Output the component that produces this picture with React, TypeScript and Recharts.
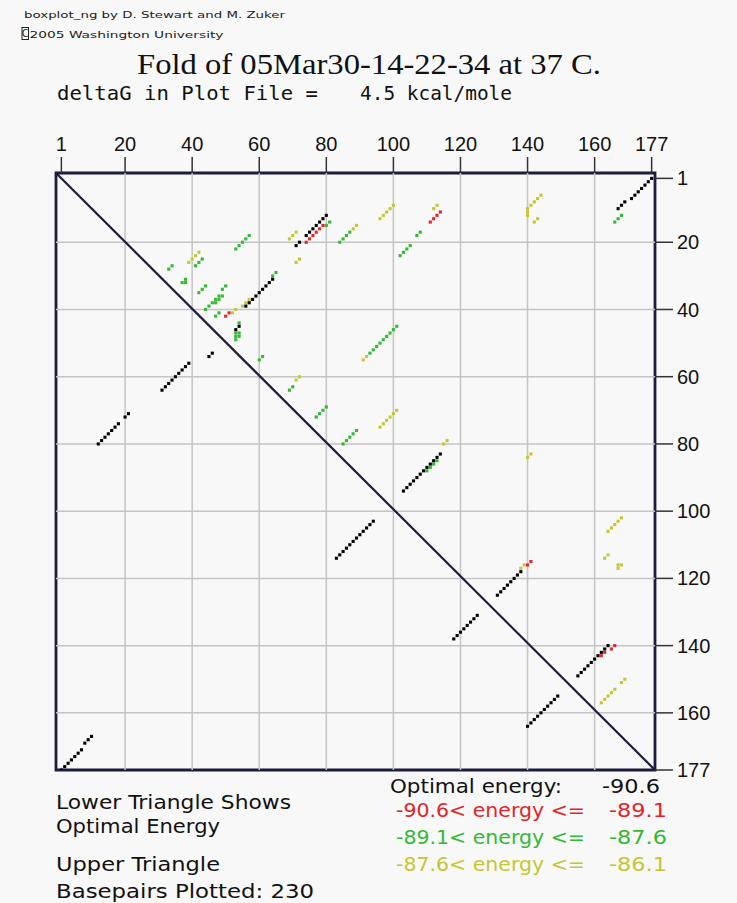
import { ScatterChart, Scatter, XAxis, YAxis, ReferenceLine, ReferenceArea } from "recharts";

type Pair = [number, number];

const axisTicks = [1, 20, 40, 60, 80, 100, 120, 140, 160, 177];
const gridTicks = [20, 40, 60, 80, 100, 120, 140, 160];

// base pairs (i, j), i < j, of the optimal fold
const optimalPairs: Pair[] = [
  [1, 177], [2, 176], [3, 175], [4, 174], [5, 173], [6, 172], [7, 171], [8, 169], [9, 168], [10, 167],
  [12, 80], [13, 79], [14, 78], [15, 77], [16, 76], [17, 75], [18, 74], [20, 72], [21, 71],
  [31, 64], [32, 63], [33, 62], [34, 61], [35, 60], [36, 59], [37, 58], [38, 57], [39, 56],
  [45, 54], [46, 53],
  [83, 114], [84, 113], [85, 112], [86, 111], [87, 110], [88, 109], [89, 108], [90, 107], [91, 106], [92, 105], [93, 104], [94, 103],
  [118, 138], [119, 137], [120, 136], [121, 135], [122, 134], [123, 133], [124, 132], [125, 131],
  [140, 164], [141, 163], [142, 162], [143, 161], [144, 160], [145, 159], [146, 158], [147, 157], [148, 156], [149, 155],
];

// suboptimal pairs, -90.6 < energy <= -89.1
const redPairs: Pair[] = [
  [15, 79], [16, 78], [17, 77], [18, 76], [19, 75], [20, 74],
  [11, 114], [12, 113], [13, 112], [14, 111],
  [41, 51], [42, 50],
  [115, 141], [116, 140],
  [140, 166], [141, 165], [142, 163], [143, 162],
];

// -89.1 < energy <= -87.6
const greenPairs: Pair[] = [
  [18, 57], [19, 56], [20, 55], [21, 54], [22, 53],
  [14, 81], [15, 80],
  [17, 87], [18, 86], [19, 85], [20, 84],
  [17, 108], [18, 107],
  [21, 105], [22, 104], [23, 103], [24, 102],
  [12, 168], [13, 167], [14, 166],
  [29, 65], [30, 64],
  [27, 34], [28, 33],
  [31, 38], [32, 37], [32, 38],
  [25, 43], [26, 42], [27, 41],
  [33, 44], [34, 43], [35, 42],
  [33, 50], [34, 49],
  [36, 48], [37, 47], [38, 46], [39, 45], [40, 44], [36, 49], [37, 48], [38, 47],
  [41, 48], [42, 47],
  [44, 54], [47, 54], [48, 54], [47, 53], [48, 53], [49, 53],
  [45, 101], [46, 100], [47, 99], [48, 98], [49, 97], [50, 96], [51, 95], [52, 94], [53, 93],
  [54, 61], [55, 60],
  [63, 70], [64, 69],
  [69, 80], [70, 79], [71, 78], [72, 77],
  [76, 89], [77, 88], [78, 87], [79, 86], [80, 85],
  [85, 113], [86, 112], [87, 111], [88, 110],
];

// -87.6 < energy <= -86.1
const yellowPairs: Pair[] = [
  [17, 71], [18, 70], [19, 69],
  [25, 72], [26, 71],
  [15, 89], [16, 88],
  [9, 100], [10, 99], [11, 98], [12, 97], [13, 96],
  [9, 113], [10, 112],
  [6, 144], [7, 143], [8, 142], [9, 141], [10, 140], [11, 140], [12, 140], [13, 143], [14, 142],
  [23, 42], [24, 41], [25, 40], [26, 39],
  [37, 57], [38, 56], [39, 55], [40, 53], [41, 52],
  [54, 92], [55, 91],
  [60, 72], [61, 71],
  [70, 101], [71, 100], [72, 99], [73, 98], [74, 97], [75, 96],
  [79, 116], [80, 115],
  [83, 141], [84, 140],
  [102, 168], [103, 167], [104, 166], [105, 165], [106, 164],
  [113, 164], [114, 163],
  [116, 167], [117, 167], [116, 168],
  [116, 139], [117, 138],
  [150, 169], [151, 168], [153, 166], [154, 165], [155, 164], [156, 163], [157, 162],
];

const bandLabels = ["-90.6", "-89.1", "-87.6", "-86.1"];
const optimalEnergy = "-90.6";
const deltaG = "4.5 kcal/mole";
const basepairCount = 230;

const NAVY = "#1c1c3c";
const RED = "#e0262a";
const GREEN = "#35b835";
const YELLOW = "#c6c634";
const bandColors = [RED, GREEN, YELLOW];

// upper triangle: x = j, y = i ; lower triangle: x = i, y = j
const upper = (pairs: Pair[]) => pairs.map(([i, j]) => ({ x: j, y: i }));
const lower = (pairs: Pair[]) => pairs.map(([i, j]) => ({ x: i, y: j }));

const square = (color: string) => (props: any) => (
  <rect x={props.cx - 1.55} y={props.cy - 1.55} width={3.1} height={3.1} fill={color} />
);

const xDomain: [number, number] = [-0.6, 178];
const yDomain: [number, number] = [-0.6, 177];

const Labels = () => {
  const mono = "DejaVu Sans Mono";
  const sans = "DejaVu Sans";
  return (
    <svg
      width={737}
      height={903}
      style={{ position: "absolute", left: 0, top: 0, pointerEvents: "none" }}
    >
      <text x={24} y={18} fontFamily={sans} fontSize={9.5} fill="#222" textLength={261} lengthAdjust="spacingAndGlyphs">
        boxplot_ng by D. Stewart and M. Zuker
      </text>
      <rect x={22} y={27.5} width={6.5} height={12} fill="none" stroke="#222" strokeWidth={1} />
      <text x={25.25} y={37} fontFamily={sans} fontSize={10} fill="#222" textAnchor="middle">C</text>
      <text x={29.5} y={38} fontFamily={sans} fontSize={9} fill="#222" textLength={194} lengthAdjust="spacingAndGlyphs">
        2005 Washington University
      </text>

      <text x={137} y={74} fontFamily="Liberation Serif" fontSize={29} fill="#111" textLength={464} lengthAdjust="spacingAndGlyphs">
        Fold of 05Mar30-14-22-34 at 37 C.
      </text>
      <text x={57} y={100} fontFamily={mono} fontSize={19} fill="#111" textLength={261} lengthAdjust="spacingAndGlyphs">
        deltaG in Plot File =
      </text>
      <text x={360} y={100} fontFamily={mono} fontSize={19} fill="#111" textLength={152} lengthAdjust="spacingAndGlyphs">
        {deltaG}
      </text>

      <text x={56} y={809} fontFamily={sans} fontSize={19} fill="#111" textLength={235} lengthAdjust="spacingAndGlyphs">
        Lower Triangle Shows
      </text>
      <text x={56} y={833} fontFamily={sans} fontSize={19} fill="#111" textLength={164} lengthAdjust="spacingAndGlyphs">
        Optimal Energy
      </text>
      <text x={56} y={871} fontFamily={sans} fontSize={19} fill="#111" textLength={164} lengthAdjust="spacingAndGlyphs">
        Upper Triangle
      </text>
      <text x={56} y={897.5} fontFamily={sans} fontSize={19} fill="#111" textLength={258} lengthAdjust="spacingAndGlyphs">
        {`Basepairs Plotted: ${basepairCount}`}
      </text>

      <text x={390} y={793} fontFamily={sans} fontSize={19} fill="#111" textLength={172} lengthAdjust="spacingAndGlyphs">
        Optimal energy:
      </text>
      <text x={602} y={793} fontFamily={sans} fontSize={19} fill="#111" textLength={58} lengthAdjust="spacingAndGlyphs">
        {optimalEnergy}
      </text>
      {bandColors.map((c, k) => (
        <g key={c}>
          <text x={396} y={816.5 + k * 27} fontFamily={sans} fontSize={19} fill={c} textLength={189} lengthAdjust="spacingAndGlyphs">
            {`${bandLabels[k]}< energy <=`}
          </text>
          <text x={609} y={816.5 + k * 27} fontFamily={sans} fontSize={19} fill={c} textLength={58} lengthAdjust="spacingAndGlyphs">
            {bandLabels[k + 1]}
          </text>
        </g>
      ))}
    </svg>
  );
};

export default function App() {
  const tickStyle = { fontSize: 20, fill: "#111", fontFamily: "Liberation Sans" };
  return (
    <div style={{ position: "absolute", left: 0, top: 0, width: 737, height: 903, background: "#f8f8f8" }}>
      <ScatterChart width={737} height={903} margin={{ top: 133, right: 22, bottom: 133, left: 56 }}>
        <XAxis
          type="number"
          dataKey="x"
          orientation="top"
          domain={xDomain}
          allowDataOverflow
          ticks={axisTicks}
          interval={0}
          height={40}
          axisLine={false}
          tickSize={16}
          tickMargin={6}
          tickLine={{ stroke: "#333", strokeWidth: 1.5 }}
          tick={tickStyle}
        />
        <YAxis
          type="number"
          dataKey="y"
          orientation="right"
          reversed
          domain={yDomain}
          allowDataOverflow
          ticks={axisTicks}
          interval={0}
          width={60}
          axisLine={false}
          tickSize={18}
          tickMargin={4}
          tickLine={{ stroke: "#333", strokeWidth: 1.5 }}
          tick={{ ...tickStyle, textAnchor: "start" }}
        />
        {gridTicks.map((t) => (
          <ReferenceLine key={`gx${t}`} x={t} stroke="#c4c4c4" strokeWidth={1.5} />
        ))}
        {gridTicks.map((t) => (
          <ReferenceLine key={`gy${t}`} y={t} stroke="#c4c4c4" strokeWidth={1.5} />
        ))}
        <ReferenceArea
          x1={xDomain[0]}
          x2={xDomain[1]}
          y1={yDomain[0]}
          y2={yDomain[1]}
          fill="none"
          stroke={NAVY}
          strokeWidth={2.8}
          ifOverflow="visible"
        />
        <ReferenceLine
          segment={[
            { x: xDomain[0], y: yDomain[0] },
            { x: xDomain[1], y: yDomain[1] },
          ]}
          stroke={NAVY}
          strokeWidth={2.2}
          ifOverflow="visible"
        />
        <Scatter data={upper(yellowPairs)} shape={square(YELLOW)} isAnimationActive={false} />
        <Scatter data={upper(greenPairs)} shape={square(GREEN)} isAnimationActive={false} />
        <Scatter data={upper(redPairs)} shape={square(RED)} isAnimationActive={false} />
        <Scatter data={upper(optimalPairs)} shape={square("#000")} isAnimationActive={false} />
        <Scatter data={lower(optimalPairs)} shape={square("#000")} isAnimationActive={false} />
      </ScatterChart>
      <Labels />
    </div>
  );
}
